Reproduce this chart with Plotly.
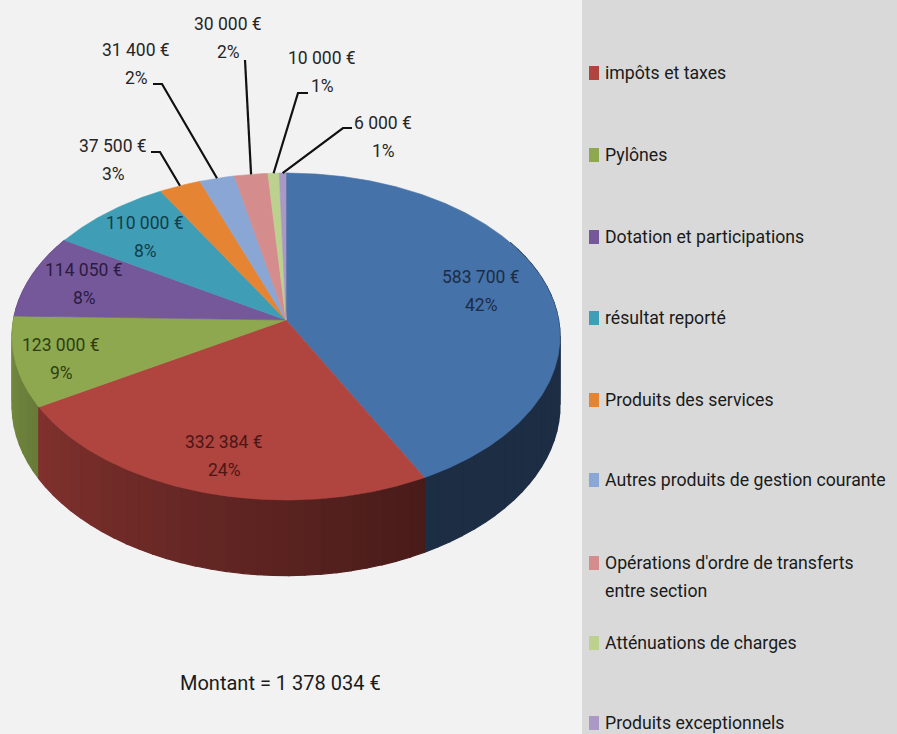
import numpy as np
import plotly.graph_objects as go

# ---------------- data ----------------
categories = [
    "",  # first legend entry is cut off at the top of the picture
    "impôts et taxes",
    "Pylônes",
    "Dotation et participations",
    "résultat reporté",
    "Produits des services",
    "Autres produits de gestion courante",
    "Opérations d'ordre de transferts<br>entre section",
    "Atténuations de charges",
    "Produits exceptionnels",
]
values = [583700, 332384, 123000, 114050, 110000, 37500, 31400, 30000, 10000, 6000]
pct_text = ["42%", "24%", "9%", "8%", "8%", "3%", "2%", "2%", "1%", "1%"]
total_text = "Montant = 1 378 034 €"

# ---------------- styles / layout constants ----------------
colors = ["#4672AA", "#B0443F", "#8DA84E", "#75589A", "#3F9DB5",
          "#E58433", "#8AA6D4", "#D48D8C", "#BCD18E", "#A999C4"]
label_colors = ["#1c2c45", "#4a1716", "#2f3d14", "#2b1c40", "#123d4a",
                "#262626", "#262626", "#262626", "#262626", "#262626"]
FONT = "Roboto, Liberation Sans, sans-serif"
W, H = 897, 734
CX, CY, A, B, K, DEPTH = 286, 320, 272.6, 161.8, 0.101, 68
LINE_GAP = 28

# label centre (x, y of the two-line block) and leader line stub points
label_pos = [(481, 291), (224, 456), (61, 359), (84, 284), (145, 237),
             (113, 160), (136, 64), (228, 38), (322, 72), (383, 137)]
leader_stub = {5: [(151, 152), (160, 152)],
               6: [(153, 84), (162, 84)],
               7: [(245, 60)],
               8: [(308, 93), (298, 93)],
               9: [(352, 128), (343, 128)]}
legend_y = [None, 73, 155, 237, 318, 400, 480, 563, 643, 723]


def proj(theta_deg, drop=0.0):
    t = np.radians(theta_deg)
    u = np.sin(t)
    w = -np.cos(t)
    s = 1.0 / (1.0 - K * w)
    return CX + A * u * s, CY + B * w * s + drop * s


def shade(hexcol, f):
    h = hexcol.lstrip("#")
    r, g, b = (int(h[i:i + 2], 16) for i in (0, 2, 4))
    return "rgb(%d,%d,%d)" % (r * f, g * f, b * f)


def wall_factor(theta):
    return float(np.clip(0.40 + 0.45 * (theta - 150) / 120, 0.40, 0.88))


total = float(sum(values))
fracs = np.array(values) / total
ends = np.cumsum(fracs) * 360
starts = ends - fracs * 360

fig = go.Figure()

# side walls (back to front)
segs = []
for i in range(len(values)):
    a0, a1 = starts[i], ends[i]
    n = max(1, int(np.ceil((a1 - a0) / 3)))
    edges = np.linspace(a0, a1, n + 1)
    for j in range(n):
        s0, s1 = edges[j], edges[j + 1]
        mid = 0.5 * (s0 + s1)
        if not (60 <= mid <= 300):
            continue
        segs.append((-np.cos(np.radians(mid)), i, s0, s1, mid))
segs.sort()
for _, i, s0, s1, mid in segs:
    th = np.linspace(s0, s1, 8)
    xt, yt = proj(th)
    xb, yb = proj(th[::-1], DEPTH)
    xs = np.concatenate([xt, xb, xt[:1]])
    ys = np.concatenate([yt, yb, yt[:1]])
    c = shade(colors[i], wall_factor(mid))
    fig.add_trace(go.Scatter(x=xs, y=ys, mode="lines", fill="toself",
                             fillcolor=c, line=dict(color=c, width=1.2),
                             hoverinfo="skip", showlegend=False))

# top faces
for i in range(len(values)):
    th = np.linspace(starts[i], ends[i], max(3, int((ends[i] - starts[i]) * 2)))
    xa, ya = proj(th)
    xs = np.concatenate([[CX], xa, [CX]])
    ys = np.concatenate([[CY], ya, [CY]])
    fig.add_trace(go.Scatter(x=xs, y=ys, mode="lines", fill="toself",
                             fillcolor=colors[i], line=dict(color=colors[i], width=0.6),
                             hoverinfo="skip", showlegend=False,
                             name=categories[i] or "série 1"))

# leader lines
for i, pts in leader_stub.items():
    mid = 0.5 * (starts[i] + ends[i])
    ex, ey = proj(mid)
    xs = [p[0] for p in pts] + [float(ex)]
    ys = [p[1] for p in pts] + [float(ey)]
    fig.add_trace(go.Scatter(x=xs, y=ys, mode="lines",
                             line=dict(color="#111111", width=2.2),
                             hoverinfo="skip", showlegend=False))

annotations = []
for i, v in enumerate(values):
    val_txt = "{:,}".format(v).replace(",", "\u00a0") + "\u00a0€"
    x, y = label_pos[i]
    for k, t in enumerate([val_txt, pct_text[i]]):
        annotations.append(dict(x=x, y=y + (k - 0.5) * LINE_GAP, text=t, showarrow=False,
                                xanchor="center", yanchor="middle", align="center",
                                font=dict(family=FONT, size=17.5, color=label_colors[i])))

annotations.append(dict(x=280, y=683, text=total_text, showarrow=False,
                        xanchor="center", yanchor="middle",
                        font=dict(family=FONT, size=20, color="#1a1a1a")))

shapes = [dict(type="rect", xref="x", yref="y", x0=582, x1=W, y0=0, y1=H,
               fillcolor="#d9d9d9", line=dict(width=0), layer="below")]
for i in range(1, len(values)):
    for k, t in enumerate(categories[i].split("<br>")):
        annotations.append(dict(x=603, y=legend_y[i] + k * LINE_GAP, text=t, showarrow=False,
                                xanchor="left", yanchor="middle", align="left",
                                font=dict(family=FONT, size=17.7, color="#1a1a1a")))
    sy = legend_y[i]
    shapes.append(dict(type="rect", xref="x", yref="y", x0=589, x1=599,
                       y0=sy - 7, y1=sy + 7, fillcolor=colors[i], line=dict(width=0)))

fig.update_layout(
    width=W, height=H, margin=dict(l=0, r=0, t=0, b=0),
    paper_bgcolor="#f2f2f2", plot_bgcolor="rgba(0,0,0,0)",
    xaxis=dict(range=[0, W], visible=False, fixedrange=True),
    yaxis=dict(range=[H, 0], visible=False, fixedrange=True),
    showlegend=False, annotations=annotations, shapes=shapes,
)

fig.write_html("out.html", config={"displayModeBar": False},
               post_script="document.body.style.margin='0';document.body.style.overflow='hidden';")
